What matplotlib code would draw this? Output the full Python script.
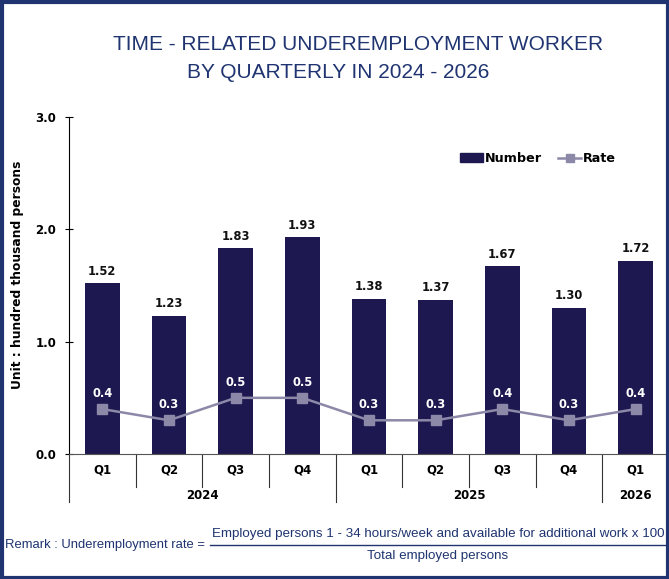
import matplotlib
matplotlib.use("Agg")
import matplotlib.pyplot as plt
from matplotlib.patches import Rectangle
from matplotlib.lines import Line2D

quarters = ["Q1", "Q2", "Q3", "Q4", "Q1", "Q2", "Q3", "Q4", "Q1"]
years = ["2024", "2025", "2026"]
year_counts = [4, 4, 1]
number = [1.52, 1.23, 1.83, 1.93, 1.38, 1.37, 1.67, 1.30, 1.72]
rate = [0.4, 0.3, 0.5, 0.5, 0.3, 0.3, 0.4, 0.3, 0.4]

BAR = "#1e1850"
LINE = "#8c88a8"
NAVY = "#1f3470"

W, H = 669, 579
fig = plt.figure(figsize=(W / 100, H / 100), dpi=100)
ax = fig.add_axes([69 / W, 1 - 454 / H, 600 / W, (454 - 117) / H])

x = list(range(len(quarters)))
ax.bar(x, number, width=0.52, color=BAR, zorder=2)
ax.plot(x, rate, color=LINE, lw=1.8, marker="s", ms=7, zorder=3)

for xi, v in zip(x, number):
    ax.text(xi, v + 0.05, f"{v:.2f}", ha="center", va="bottom",
            fontsize=8.3, fontweight="bold", color="#111111")
for xi, v in zip(x, rate):
    ax.text(xi, v + 0.08, f"{v:.1f}", ha="center", va="bottom",
            fontsize=8.3, fontweight="bold", color="white", zorder=4)

ax.set_xlim(-0.5, len(quarters) - 0.5)
ax.set_ylim(0, 3.0)
ax.set_yticks([0, 1, 2, 3])
ax.set_yticklabels([f"{t:.1f}" for t in [0, 1, 2, 3]], fontweight="bold", fontsize=8.5)
ax.tick_params(axis="y", direction="inout", length=6, width=0.8, pad=6)
ax.set_xticks([])
for s in ["top", "right"]:
    ax.spines[s].set_visible(False)
ax.spines["left"].set_linewidth(0.8)
ax.spines["bottom"].set_linewidth(0.8)
ax.spines["bottom"].set_color("#555555")

ax.set_ylabel("Unit : hundred thousand persons", fontsize=8.8, fontweight="bold")
ax.yaxis.set_label_coords(-0.075, (454 - 275) / 337)

trans = ax.get_xaxis_transform()
# quarter labels
for xi, q in zip(x, quarters):
    ax.text(xi, -0.048, q, transform=trans, ha="center", va="center",
            fontsize=8.5, fontweight="bold")
# separators
year_bounds = [-0.5]
for c in year_counts:
    year_bounds.append(year_bounds[-1] + c)
for i in range(len(quarters)):
    b = i - 0.5
    if b in year_bounds:
        ax.add_line(Line2D([b, b], [0, -0.143], transform=trans, color="#333333",
                           lw=0.8, clip_on=False))
    else:
        ax.add_line(Line2D([b, b], [0, -0.098], transform=trans, color="#333333",
                           lw=0.8, clip_on=False))
for i, yname in enumerate(years):
    c = (year_bounds[i] + year_bounds[i + 1]) / 2
    ax.text(c, -0.122, yname, transform=trans, ha="center", va="center",
            fontsize=8.5, fontweight="bold")

# legend
ax.legend(handles=[Rectangle((0, 0), 1, 1, color=BAR),
                   Line2D([0], [0], color=LINE, lw=1.8, marker="s", ms=6)],
          labels=["Number", "Rate"], loc="upper right", bbox_to_anchor=(0.93, 0.93),
          ncol=2, frameon=False, handlelength=1.8, handletextpad=0.1, columnspacing=1.3,
          prop={"weight": "bold", "size": 9.2})

# title
fig.text(358 / W, 1 - 44 / H, "TIME - RELATED UNDEREMPLOYMENT WORKER", ha="center",
         va="center", fontsize=15, color=NAVY, family="Liberation Sans")
fig.text(338 / W, 1 - 73 / H, "BY QUARTERLY IN 2024 - 2026", ha="center",
         va="center", fontsize=15, color=NAVY, family="Liberation Sans")

# remark
fig.text(5 / W, 1 - 545 / H, "Remark : Underemployment rate =", ha="left", va="center",
         fontsize=9.4, color=NAVY, family="Liberation Sans")
fig.text(438 / W, 1 - 534 / H, "Employed persons 1 - 34 hours/week and available for additional work x 100",
         ha="center", va="center", fontsize=9.6, color=NAVY, family="Liberation Sans")
fig.text(438 / W, 1 - 556 / H, "Total employed persons",
         ha="center", va="center", fontsize=9.6, color=NAVY, family="Liberation Sans")
fig.add_artist(Line2D([210 / W, 665 / W], [1 - 545 / H, 1 - 545 / H], color=NAVY, lw=1))

# border
fig.add_artist(Rectangle((1.5 / W, 1.5 / H), (W - 3) / W, (H - 3) / H, fill=False,
                         edgecolor=NAVY, lw=3, transform=fig.transFigure))

fig.savefig("out.png", dpi=100)
